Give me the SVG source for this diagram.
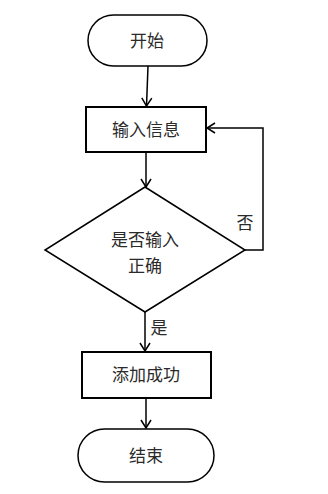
<svg xmlns="http://www.w3.org/2000/svg" width="328" height="494" viewBox="0 0 328 494">
<defs>
<style>
.n{fill:#fff;stroke:#000;stroke-width:1.5;}
.p{fill:#fff;stroke:#000;stroke-width:2;}
.c{fill:none;stroke:#000;stroke-width:1.5;}
text{font-family:"Noto Sans CJK SC","Noto Sans",sans-serif;font-size:17px;text-anchor:middle;fill:#2a2a2a;}
</style>
<marker id="a" viewBox="0 0 10 12" refX="9" refY="6" markerWidth="10" markerHeight="12" markerUnits="userSpaceOnUse" orient="auto">
<path d="M1,1 L9,6 L1,11" fill="none" stroke="#000" stroke-width="1.5"/>
</marker>
</defs>
<rect width="328" height="494" fill="#fff"/>
<g id="connectors">
<path class="c" d="M148,66 L146.5,106" marker-end="url(#a)"/>
<path class="c" d="M146,152 L146,187" marker-end="url(#a)"/>
<path class="c" d="M245,250 L263,250 L263,128 L207,128" marker-end="url(#a)"/>
<path class="c" d="M145,312 L145,351" marker-end="url(#a)"/>
<path class="c" d="M146,398 L146,428" marker-end="url(#a)"/>
<text x="245" y="229">否</text>
<text x="159" y="334">是</text>
</g>
<g id="start">
<rect class="n" x="88" y="15" width="119" height="51" rx="25.5"/>
<text x="147" y="47">开始</text>
</g>
<g id="input">
<rect class="p" x="86" y="107" width="120" height="45"/>
<text x="146" y="136">输入信息</text>
</g>
<g id="decision">
<polygon class="n" points="145,187 245,250 145,312 45,250"/>
<text x="145" y="246">是否输入</text>
<text x="145" y="272">正确</text>
</g>
<g id="success">
<rect class="p" x="82" y="352" width="129" height="46"/>
<text x="146" y="381">添加成功</text>
</g>
<g id="end">
<rect class="n" x="78" y="429" width="136" height="53" rx="26.5"/>
<text x="146" y="462">结束</text>
</g>
</svg>
